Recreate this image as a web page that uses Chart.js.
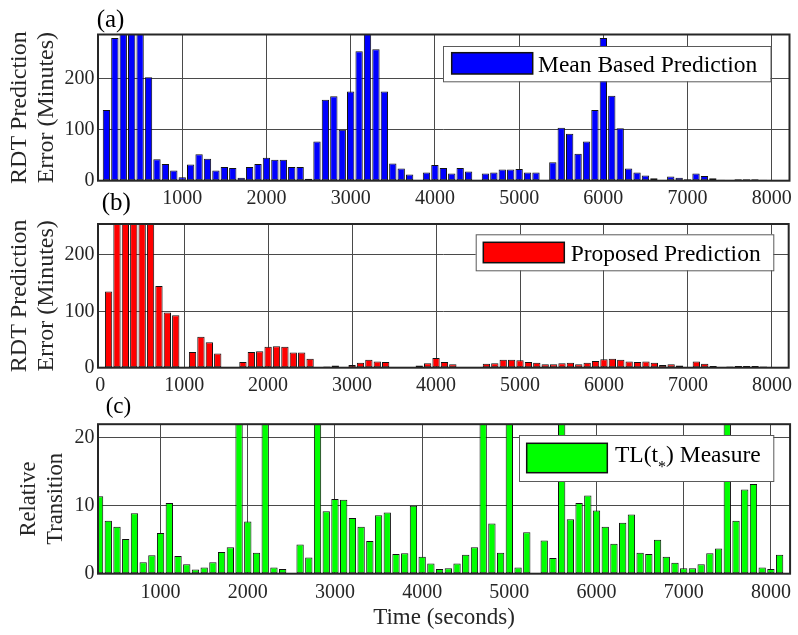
<!DOCTYPE html>
<html>
<head>
<meta charset="utf-8">
<script src="https://cdn.jsdelivr.net/npm/chart.js@4.4.1/dist/chart.umd.min.js"></script>
<style>
  html, body { margin: 0; padding: 0; background: #fff; overflow: hidden; }
  #wrap { position: relative; width: 798px; height: 635px; }
  canvas { position: absolute; left: 0; }
</style>
</head>
<body>
<div id="wrap">
  <canvas id="pa" width="798" height="215" style="top:0px"></canvas>
  <canvas id="pb" width="798" height="220" style="top:180px"></canvas>
  <canvas id="pc" width="798" height="250" style="top:385px"></canvas>
</div>
<script>
// time bins (seconds), one bar every 100 s
const binsAB = Array.from({ length: 79 }, (_, i) => 100 + i * 100);
const binsC = Array.from({ length: 79 }, (_, i) => 300 + i * 100);

// (a) mean based prediction error, minutes
const meanErr = [
  139, 280, 300, 300, 300, 203, 42, 33, 20, 7,
  32, 52, 43, 20, 27, 25, 6, 27, 33, 45,
  41, 41, 27, 27, 4, 77, 159, 166, 100, 175,
  254, 300, 258, 175, 34, 24, 12, 0, 16, 31,
  25, 14, 25, 18, 0, 14, 16, 22, 22, 23,
  16, 16, 1, 36, 104, 92, 53, 77, 139, 280,
  167, 103, 24, 16, 10, 5, 0, 8, 6, 3,
  14, 9, 5, 2, 1, 3, 3, 3, 2
];

// (b) proposed prediction error, minutes
const propErr = [
  135, 300, 300, 300, 300, 300, 145, 98, 93, 0,
  28, 55, 45, 25, 0, 0, 10, 28, 29, 37,
  38, 37, 27, 27, 16, 1, 2, 4, 0, 5,
  9, 14, 11, 10, 1, 0, 1, 4, 8, 17,
  10, 6, 1, 1, 0, 7, 8, 14, 14, 13,
  10, 9, 6, 6, 8, 9, 6, 9, 12, 15,
  16, 14, 11, 10, 11, 9, 5, 6, 4, 0,
  11, 7, 3, 1, 2, 3, 3, 3, 2
];

// (c) relative transition TL(t*)
const tlMeasure = [
  11.4, 7.8, 6.9, 5.1, 8.9, 1.7, 2.7, 6.0, 10.4, 2.6,
  1.4, 0.6, 0.9, 1.7, 3.2, 3.9, 30, 7.7, 3.1, 30,
  0.9, 0.7, 0, 4.3, 2.4, 30, 9.2, 11.0, 10.9, 8.2,
  6.9, 4.8, 8.6, 9.0, 2.9, 3.0, 10.0, 2.5, 1.5, 0.7,
  0.8, 1.5, 2.8, 3.9, 30, 7.4, 3.1, 30, 0.9, 6.1,
  0, 4.9, 2.3, 30, 8.0, 10.4, 11.5, 9.3, 6.9, 4.4,
  7.5, 8.7, 3.1, 2.9, 5.0, 2.5, 1.6, 0.8, 0.8, 1.4,
  3.0, 3.7, 30, 7.8, 12.4, 13.2, 0.9, 0.7, 2.8
];

// tick values
const xTicksA = [1000, 2000, 3000, 4000, 5000, 6000, 7000, 8000];
const xTicksB = [0, 1000, 2000, 3000, 4000, 5000, 6000, 7000, 8000];
const xTicksC = [1000, 2000, 3000, 4000, 5000, 6000, 7000, 8000];
const yTicksErr = [0, 100, 200];
const yTicksTL = [0, 10, 20];

const SERIF = "'Liberation Serif', 'Times New Roman', serif";
const INK = '#262626';
const GRID = '#4a4a4a';

// frame, in-axes legend and panel tag
const decor = {
  id: 'decor',
  afterDatasetsDraw(chart, args, o) {
    const { ctx, chartArea: a } = chart;
    ctx.save();
    ctx.strokeStyle = INK;
    ctx.lineWidth = 2;
    ctx.strokeRect(a.left, a.top, a.right - a.left, a.bottom - a.top);

    const b = o.box;
    ctx.fillStyle = '#fff';
    ctx.fillRect(b[0], b[1], b[2] - b[0], b[3] - b[1]);
    ctx.strokeStyle = '#5a5a5a';
    ctx.lineWidth = 1;
    ctx.strokeRect(b[0] + 0.5, b[1] + 0.5, b[2] - b[0], b[3] - b[1]);

    const s = o.swatch;
    ctx.fillStyle = o.color;
    ctx.fillRect(s[0], s[1], s[2] - s[0], s[3] - s[1]);
    ctx.strokeStyle = '#111';
    ctx.lineWidth = 1.5;
    ctx.strokeRect(s[0], s[1], s[2] - s[0], s[3] - s[1]);

    ctx.fillStyle = '#000';
    ctx.textBaseline = 'alphabetic';
    ctx.textAlign = 'left';
    let x = o.textX;
    for (const part of o.label) {
      if (part.sub) {
        ctx.font = '16px ' + SERIF;
        ctx.fillText(part.t, x, o.textY + 10);
      } else {
        ctx.font = '23.5px ' + SERIF;
        ctx.fillText(part.t, x, o.textY);
      }
      x += ctx.measureText(part.t).width;
    }

    ctx.font = o.tagSize + 'px ' + SERIF;
    ctx.fillStyle = '#000';
    ctx.fillText(o.tag, o.tagX, o.tagY);
    ctx.restore();
  }
};

function panel(id, p) {
  const hideZero = c => (c.tick && c.tick.value === 0 ? 'rgba(0,0,0,0)' : GRID);
  return new Chart(document.getElementById(id), {
    type: 'bar',
    data: {
      datasets: [{
        data: p.bins.map((t, i) => ({ x: t, y: p.values[i] })),
        backgroundColor: p.color,
        borderColor: '#111',
        borderWidth: 1,
        borderSkipped: false,
        barPercentage: p.barPct,
        categoryPercentage: 1,
        clip: 0
      }]
    },
    options: {
      responsive: false,
      animation: false,
      devicePixelRatio: 1,
      layout: { padding: { top: p.top, right: p.right, left: 0, bottom: 0 } },
      plugins: { legend: { display: false }, tooltip: { enabled: false }, decor: p.decor },
      scales: {
        x: {
          type: 'linear',
          min: p.xMin,
          max: p.xMax,
          offset: false,
          grid: { offset: false, color: hideZero, lineWidth: 1, drawTicks: false },
          border: { display: false },
          afterBuildTicks: s => { s.ticks = p.xTicks.map(v => ({ value: v })); },
          afterFit: s => { s.height = p.xHeight; },
          ticks: {
            font: { family: SERIF, size: 20 }, color: INK, padding: p.xPad,
            maxRotation: 0, autoSkip: false, callback: v => String(v)
          },
          title: p.xTitle
            ? { display: true, text: p.xTitle, font: { family: SERIF, size: 23, lineHeight: 1.2 }, color: INK, padding: { bottom: 3.5 } }
            : { display: false }
        },
        y: {
          min: 0,
          max: p.yMax,
          grid: { color: hideZero, lineWidth: 1, drawTicks: false },
          border: { display: false },
          afterBuildTicks: s => { s.ticks = p.yTicks.map(v => ({ value: v })); },
          afterFit: s => { s.width = 98; },
          ticks: { font: { family: SERIF, size: 20 }, color: INK, padding: 3.5, callback: v => String(v) },
          title: {
            display: true, text: p.yTitle,
            font: { family: SERIF, size: p.yTitleSize, lineHeight: 27 / p.yTitleSize }, color: INK,
            padding: { top: p.yTitlePad, bottom: 0 }
          }
        }
      }
    },
    plugins: [decor]
  });
}

panel('pa', {
  bins: binsAB, values: meanErr, color: '#0000ff', barPct: 0.87,
  top: 34.5, right: 7.5, xHeight: 34.3, xPad: 6,
  xMin: 0, xMax: 8210, xTicks: xTicksA, yMax: 287, yTicks: yTicksErr,
  yTitle: ['RDT Prediction', 'Error (Minutes)'], yTitleSize: 24, yTitlePad: 6,
  decor: {
    box: [443, 46, 770.5, 81.3], swatch: [451.7, 52.7, 532.7, 74], color: '#0000ff',
    label: [{ t: 'Mean Based Prediction' }], textX: 538, textY: 71.7,
    tag: '(a)', tagSize: 25, tagX: 96.7, tagY: 26.5
  }
});

panel('pb', {
  bins: binsAB, values: propErr, color: '#ff0000', barPct: 0.87,
  top: 44, right: 4.3, xHeight: 32.3, xPad: 6,
  xMin: -26, xMax: 8200, xTicks: xTicksB, yMax: 255, yTicks: yTicksErr,
  yTitle: ['RDT Prediction', 'Error (Minutes)'], yTitleSize: 24, yTitlePad: 6,
  decor: {
    box: [475.7, 54.3, 773.3, 90.3], swatch: [483.3, 62.3, 564.3, 82.7], color: '#ff0000',
    label: [{ t: 'Proposed Prediction' }], textX: 570.7, textY: 81,
    tag: '(b)', tagSize: 25, tagX: 101.7, tagY: 29.6
  }
});

panel('pc', {
  bins: binsC, values: tlMeasure, color: '#00ff00', barPct: 0.84,
  top: 39.2, right: 3.7, xHeight: 61.3, xPad: 7,
  xMin: 282, xMax: 8220, xTicks: xTicksC, yMax: 22, yTicks: yTicksTL,
  yTitle: ['Relative', 'Transition'], yTitleSize: 22.5, yTitlePad: 15.5,
  xTitle: 'Time (seconds)',
  decor: {
    box: [519, 50, 773.3, 96], swatch: [526.7, 58.3, 607.3, 87.7], color: '#00ff00',
    label: [{ t: 'TL(t' }, { t: '*', sub: true }, { t: ') Measure' }], textX: 615, textY: 77.3,
    tag: '(c)', tagSize: 23, tagX: 105.7, tagY: 27.6
  }
});
</script>
</body>
</html>
